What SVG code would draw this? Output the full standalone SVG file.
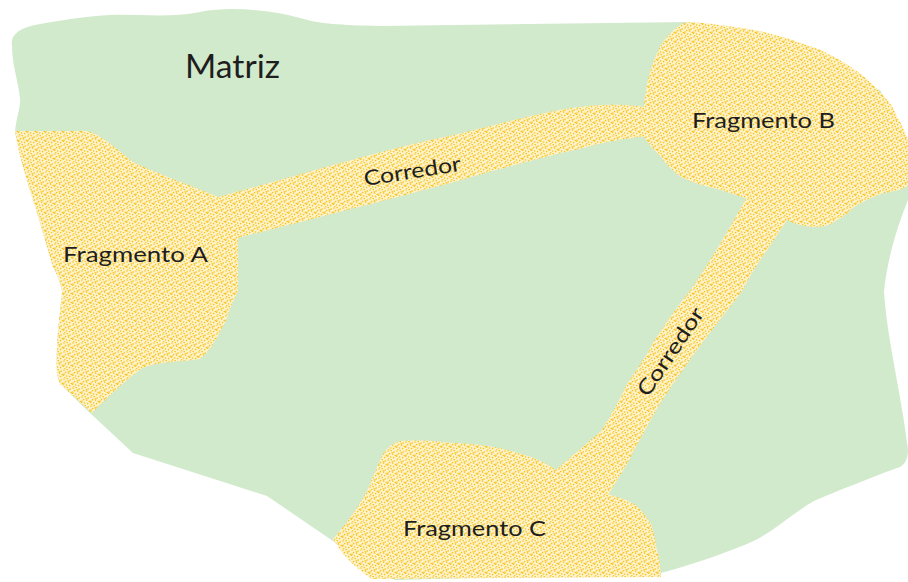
<svg xmlns="http://www.w3.org/2000/svg" width="908" height="582" viewBox="0 0 908 582">
  <defs>
    <pattern id="stipple" patternUnits="userSpaceOnUse" width="9" height="9">
      <rect width="9" height="9" fill="#FEF2C8"/>
      <g fill="#F7C21A">
        <circle cx="1" cy="1" r="0.8"/>
        <circle cx="4.2" cy="0.6" r="0.8"/>
        <circle cx="7.2" cy="2" r="0.8"/>
        <circle cx="2.6" cy="3.6" r="0.8"/>
        <circle cx="5.6" cy="4.1" r="0.8"/>
        <circle cx="8.3" cy="5.5" r="0.8"/>
        <circle cx="0.6" cy="6.2" r="0.8"/>
        <circle cx="3.6" cy="7" r="0.8"/>
        <circle cx="6.6" cy="7.6" r="0.8"/>
        <circle cx="1.8" cy="8.6" r="0.7"/>
        <rect x="4.5" y="2.3" width="2" height="0.9"/>
        <rect x="0.2" y="4.6" width="1.8" height="0.9"/>
      </g>
    </pattern>
    <style>
      .matrix { fill: #D2EACC; }
      .patch { fill: url(#stipple); }
      .lbl { font-family: Lato, "Open Sans", "Liberation Sans", sans-serif; fill: #1E1E1E; }
    </style>
  </defs>

  <g id="matriz">
    <path class="matrix" d="M 12,45 C 10,35 20,28 35,25 C 60,20 90,16 110,15 C 140,14 170,18 200,12 C 230,6 270,10 300,18 C 320,24 340,25 380,26 L 687,22 L 880,90 L 908,140 L 908,200 C 898,225 888,255 884,291 C 887,340 901,391 908,450 C 908,462 902,467 897,468 C 870,478 840,490 814,501 C 790,515 770,535 747,544 C 720,555 690,565 661,573 L 395,580 L 333,541 L 267,496 L 133,453 L 90,413 L 60,384 L 57,374 C 55,340 62,300 62,291 C 60,280 55,270 53,267 C 45,240 38,215 33,200 C 25,175 18,150 15,131 C 17,115 21,105 20,98 C 18,80 12,65 12,45 Z"/>
    <text class="lbl" x="185" y="78" font-size="32" textLength="95" lengthAdjust="spacingAndGlyphs">Matriz</text>
  </g>

  <g id="corredores">
    <path class="patch" d="M 212,196 L 218,197 C 300,175 380,150 454,135 C 500,124 560,106 604,105 C 620,104 640,106 652,108 L 652,136 C 630,137 600,143 587,147 C 560,153 520,163 454,182 C 380,202 300,222 238,238 L 230,240 Z"/>
    <path class="patch" d="M 748,195 L 790,215 C 775,240 755,265 742,291 C 720,320 700,345 687,364 C 672,385 662,400 654,414 C 645,430 635,448 627,464 L 605,500 L 550,475 C 565,462 585,445 601,431 C 612,415 620,398 627,384 C 637,370 647,355 654,341 C 665,325 678,305 690,291 C 710,262 730,228 748,195 Z"/>
    <text class="lbl" font-size="21" transform="translate(365,186) rotate(-9)" textLength="98" lengthAdjust="spacingAndGlyphs">Corredor</text>
    <text class="lbl" font-size="21" transform="translate(648,398) rotate(-56)" textLength="102" lengthAdjust="spacingAndGlyphs">Corredor</text>
  </g>

  <g id="fragmento-a">
    <path class="patch" d="M 15,131 L 87,131 C 100,134 112,145 133,162 C 160,175 190,185 218,197 L 238,238 L 238,291 C 232,302 229,312 227,318 C 218,338 208,353 200,359 C 180,362 155,362 143,368 C 125,380 105,400 92,413 L 60,384 L 57,374 C 55,340 62,300 62,291 C 60,280 55,270 53,267 C 45,240 38,215 33,200 C 25,175 18,150 15,131 Z"/>
    <text class="lbl" x="63" y="262" font-size="21" textLength="145" lengthAdjust="spacingAndGlyphs">Fragmento A</text>
  </g>

  <g id="fragmento-b">
    <path class="patch" d="M 644,107 C 646,80 655,50 667,37 C 673,30 680,24 687,22 C 710,23 730,26 754,30 C 780,35 800,42 821,50 C 845,62 860,72 871,83 C 885,97 895,107 897,117 C 902,125 906,133 908,140 L 908,186 C 900,190 892,192 884,193 C 870,198 862,202 854,207 C 848,213 842,218 837,220 C 830,226 822,227 814,227 C 805,227 795,224 787,220 L 751,200 C 740,196 730,193 721,190 C 705,186 690,182 681,177 C 672,170 665,163 661,157 C 654,150 648,143 644,137 Z"/>
    <text class="lbl" x="692" y="128" font-size="21" textLength="143" lengthAdjust="spacingAndGlyphs">Fragmento B</text>
  </g>

  <g id="fragmento-c">
    <path class="patch" d="M 557,471 C 545,462 535,458 521,454 C 500,447 480,444 454,443 C 430,440 410,440 400,441 C 390,444 386,450 383,454 C 377,466 372,480 367,491 C 358,508 345,525 333,539 C 342,555 355,568 372,579 L 661,577 C 660,562 659,555 657,551 C 655,538 653,530 651,524 C 645,515 640,508 634,504 C 625,499 615,496 607,494 Z"/>
    <text class="lbl" x="403" y="536" font-size="21" textLength="143" lengthAdjust="spacingAndGlyphs">Fragmento C</text>
  </g>
</svg>
